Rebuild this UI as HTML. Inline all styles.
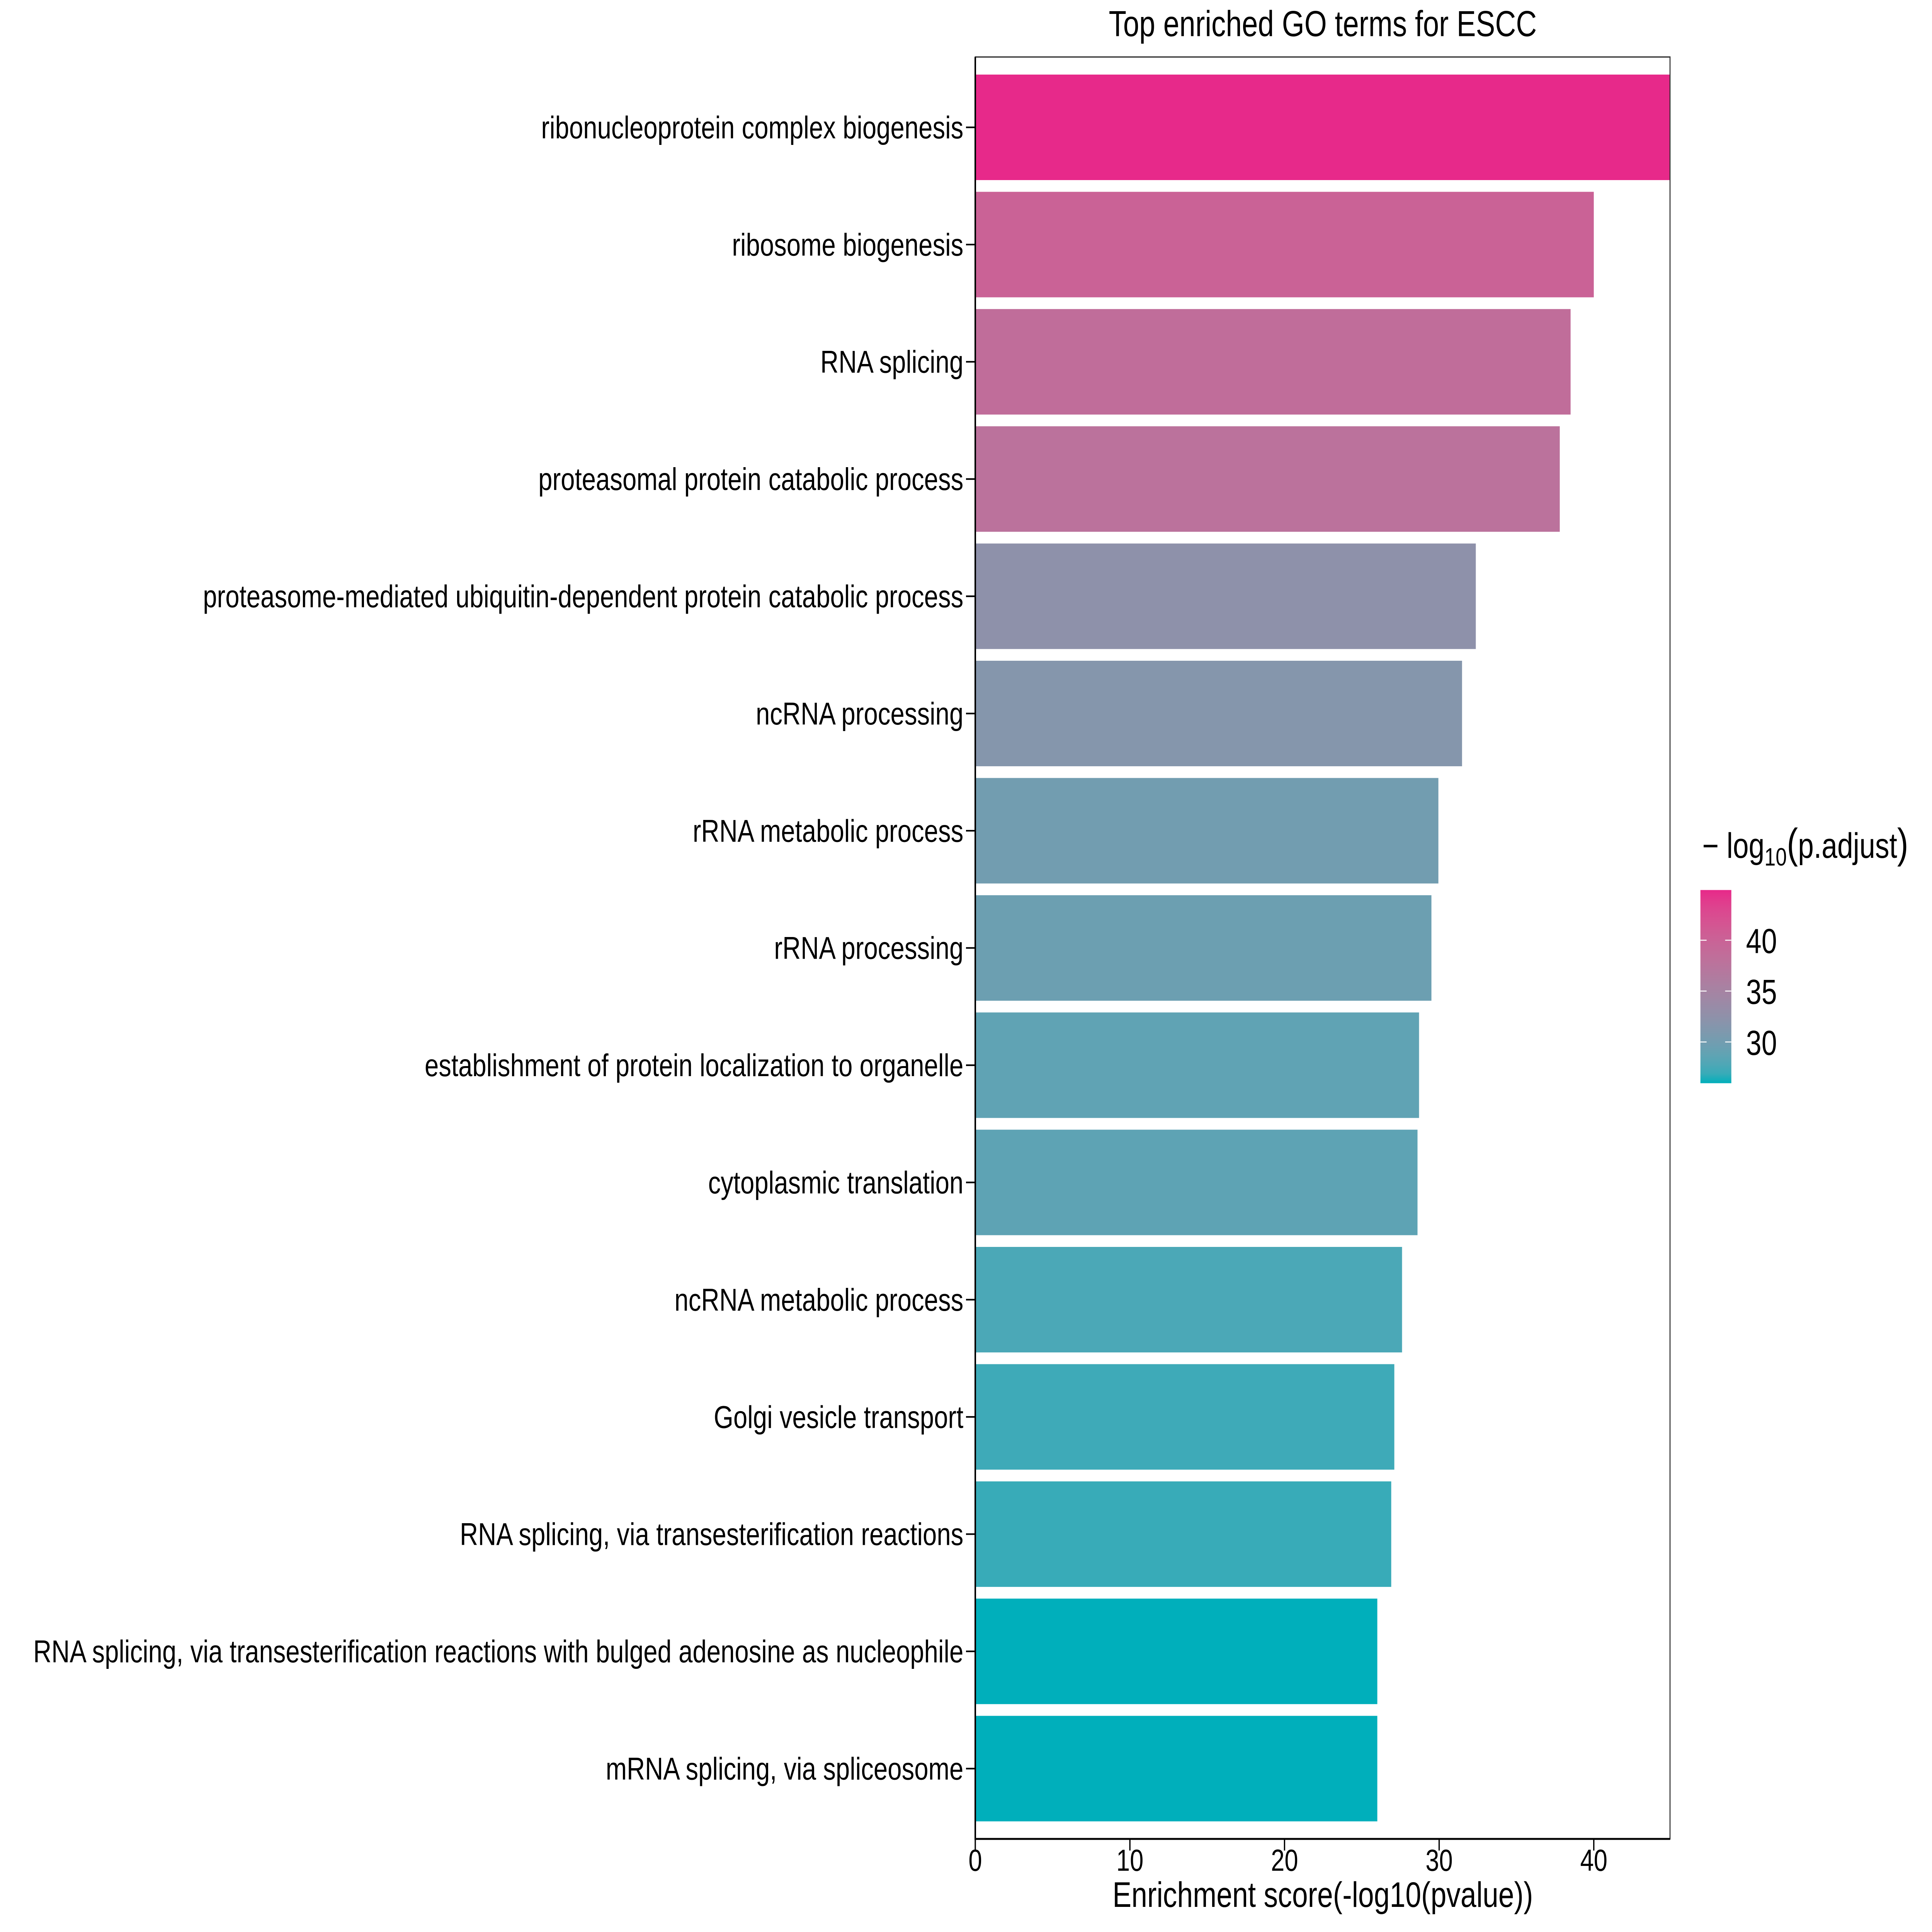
<!DOCTYPE html>
<html><head><meta charset="utf-8">
<style>
html,body{margin:0;padding:0;background:#fff;width:100%;height:100%;overflow:hidden;}
svg{display:block;width:100vw;height:100vh;}
text{font-family:"Liberation Sans",Arial,sans-serif;}
</style></head>
<body>
<svg id="chart" viewBox="0 0 7500 6000" preserveAspectRatio="none" xmlns="http://www.w3.org/2000/svg">
<rect x="0" y="0" width="7500" height="6000" fill="#fff"/>
<text x="5135" y="112" font-size="112" text-anchor="middle">Top enriched GO terms for ESCC</text>
<g id="bars"></g>
<g id="yaxis"></g>
<g id="xaxis"></g>
<text x="5135" y="5922" font-size="110" text-anchor="middle">Enrichment score(-log10(pvalue))</text>
<g id="legend">
<text x="6608" y="2664" font-size="110">− log<tspan font-size="78" dy="24">10</tspan><tspan dy="-24" font-size="130">(</tspan>p.adjust<tspan font-size="130">)</tspan></text>
</g>
</svg>
<script>
const categories = ["ribonucleoprotein complex biogenesis","ribosome biogenesis","RNA splicing","proteasomal protein catabolic process","proteasome-mediated ubiquitin-dependent protein catabolic process","ncRNA processing","rRNA metabolic process","rRNA processing","establishment of protein localization to organelle","cytoplasmic translation","ncRNA metabolic process","Golgi vesicle transport","RNA splicing, via transesterification reactions","RNA splicing, via transesterification reactions with bulged adenosine as nucleophile","mRNA splicing, via spliceosome"];
const scores = [44.93, 40.0, 38.5, 37.8, 32.37, 31.48, 29.95, 29.5, 28.7, 28.6, 27.6, 27.1, 26.9, 26.0, 26.0];
const padj = [44.93, 40.0, 38.5, 37.8, 32.37, 31.48, 29.95, 29.5, 28.7, 28.6, 27.6, 27.1, 26.9, 25.95, 25.95];
const xTicks = [0, 10, 20, 30, 40];
const legendTicks = [30, 35, 40];

const NS = "http://www.w3.org/2000/svg";
const P = {l:3786, r:6483, t:177, b:5711};
const xMax = 44.93;
const cMin = 25.95, cMax = 44.93;
function xs(v){return P.l + (v/xMax)*(P.r-P.l);}
const n = categories.length;
const step = (P.b-P.t)/(n-1+1.2);
function yc(i){return P.t + step*(0.6+i);}
function mk(tag, attrs, parent){const e=document.createElementNS(NS,tag);for(const k in attrs)e.setAttribute(k,attrs[k]);parent.appendChild(e);return e;}

function s2l(c){c/=255;return c<=0.04045?c/12.92:Math.pow((c+0.055)/1.055,2.4);}
function l2s(c){c=c<=0.0031308?12.92*c:1.055*Math.pow(c,1/2.4)-0.055;return Math.max(0,Math.min(255,Math.round(c*255)));}
function toLab(h){const r=s2l(parseInt(h.substr(1,2),16)),g=s2l(parseInt(h.substr(3,2),16)),b=s2l(parseInt(h.substr(5,2),16));
let X=(0.4124*r+0.3576*g+0.1805*b)/0.95047,Y=0.2126*r+0.7152*g+0.0722*b,Z=(0.0193*r+0.1192*g+0.9505*b)/1.08883;
const f=t=>t>0.008856?Math.cbrt(t):7.787*t+16/116;X=f(X);Y=f(Y);Z=f(Z);return [116*Y-16,500*(X-Y),200*(Y-Z)];}
function fromLab(L){let Y=(L[0]+16)/116,X=L[1]/500+Y,Z=Y-L[2]/200;const fi=t=>{const t3=t*t*t;return t3>0.008856?t3:(t-16/116)/7.787;};
X=fi(X)*0.95047;Y=fi(Y);Z=fi(Z)*1.08883;
const r=3.2406*X-1.5372*Y-0.4986*Z,g=-0.9689*X+1.8758*Y+0.0415*Z,b=0.0557*X-0.2040*Y+1.0570*Z;return "rgb("+l2s(r)+","+l2s(g)+","+l2s(b)+")";}
const LOW=toLab("#00AFBB"), HIGH=toLab("#E7298A");
function col(v){let t=(v-cMin)/(cMax-cMin);t=Math.max(0,Math.min(1,t));return fromLab([0,1,2].map(k=>LOW[k]+(HIGH[k]-LOW[k])*t));}

const svg=document.getElementById("chart");
const gb=document.getElementById("bars"), gy=document.getElementById("yaxis"), gx=document.getElementById("xaxis");
const bh = step*0.9;
categories.forEach((c,i)=>{
  const r=mk("rect",{x:P.l,y:yc(i)-bh/2,width:xs(scores[i])-P.l,height:bh,fill:col(padj[i])},gb);
  
  
  const tk=mk("line",{x1:P.l-36,x2:P.l,y1:yc(i),y2:yc(i),stroke:"#000","stroke-width":5},gy);
  
  
  const t=mk("text",{x:P.l-46,y:yc(i)+34,"font-size":98,"text-anchor":"end"},gy);
  
  
  t.textContent=c;
});
const bd=mk("rect",{x:P.l,y:P.t,width:P.r-P.l,height:P.b-P.t,fill:"none",stroke:"#333","stroke-width":4},svg);


const la=mk("line",{x1:P.l,x2:P.l,y1:P.t,y2:P.b+3,stroke:"#000","stroke-width":6},svg);


const ba=mk("line",{x1:P.l-3,x2:P.r,y1:P.b,y2:P.b,stroke:"#000","stroke-width":6},svg);


xTicks.forEach(v=>{
  const tk=mk("line",{x1:xs(v),x2:xs(v),y1:P.b,y2:P.b+36,stroke:"#000","stroke-width":5},gx);
  
  
  const t=mk("text",{x:xs(v),y:5810,"font-size":95,"text-anchor":"middle"},gx);
  
  
  t.textContent=v;
});
const lg=document.getElementById("legend");
const L={x:6601,w:120,top:2764,bot:3364};
function ly(v){return L.bot-(v-cMin)/(cMax-cMin)*(L.bot-L.top);}
const defs=mk("defs",{},svg);
const grad=mk("linearGradient",{id:"lgrad",x1:0,y1:1,x2:0,y2:0},defs);
for(let k=0;k<=20;k++){mk("stop",{offset:(k/20),"stop-color":col(cMin+(cMax-cMin)*k/20)},grad);}
const lb=mk("rect",{x:L.x,y:L.top,width:L.w,height:L.bot-L.top,fill:"url(#lgrad)"},lg);


legendTicks.forEach(v=>{
  mk("line",{x1:L.x,x2:L.x+24,y1:ly(v),y2:ly(v),stroke:"#fff","stroke-width":3},lg);
  mk("line",{x1:L.x+L.w-24,x2:L.x+L.w,y1:ly(v),y2:ly(v),stroke:"#fff","stroke-width":3},lg);
  const t=mk("text",{x:6778,y:ly(v)+40,"font-size":108},lg);
  
  
  t.textContent=v;
});
</script>
</body></html>
